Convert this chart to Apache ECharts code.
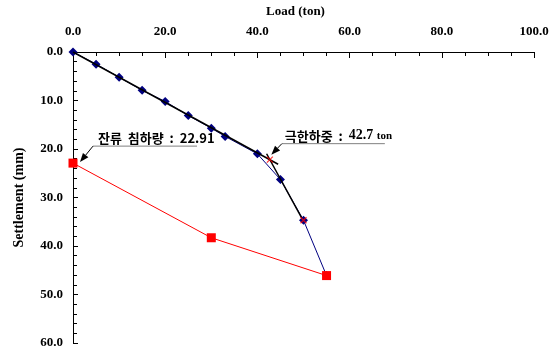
<!DOCTYPE html>
<html><head><meta charset="utf-8">
<script src="https://cdn.jsdelivr.net/npm/echarts@6/dist/echarts.min.js"></script>
<style>html,body{margin:0;padding:0;background:#fff}#c{width:557px;height:353px}</style>
</head><body><div id="c"></div>
<script>
// Loading curve (load ton, settlement mm)
var loadValues = [0, 5, 10, 15, 20, 25, 30, 33, 40, 45, 50, 55];
var settleValues = [0, 2.5, 5.2, 7.9, 10.2, 13.1, 15.7, 17.4, 21.0, 26.3, 34.7, 46.1];
// Unloading curve
var unloadLoads = [0, 30, 55];
var unloadSettles = [22.91, 38.3, 46.1];
// Tangent lines
var tangentA = [[0, 0], [44.5, 23.14]];
var tangentB = [[42.0, 20.98], [49.6, 34.2]];
// Ultimate load marker
var ultimateLoad = 42.7, ultimateSettle = 22.2;
var residualSettle = 22.91;
var crossPoints = [[42.7, 22.2], [50, 34.7]];
var xTicks = [0, 20, 40, 60, 80, 100];
var yTicks = [0, 10, 20, 30, 40, 50, 60];

var serif = '"Liberation Serif","Times New Roman",serif';
var kr = '"Noto Sans CJK KR",sans-serif';
var chart = echarts.init(document.getElementById('c'), null, {renderer: 'canvas'});
var loadData = loadValues.map(function (v, i) { return [v, settleValues[i]]; });
var unloadData = unloadLoads.map(function (v, i) { return [v, unloadSettles[i]]; });
var crossPath = 'path://M0,0L10,10M10,0L0,10';

chart.setOption({
  animation: false,
  grid: {left: 73, top: 50, right: 23, bottom: 10},
  xAxis: {
    type: 'value', position: 'top', min: 0, max: 100, interval: 20,
    name: 'Load (ton)', nameLocation: 'middle', nameGap: 34,
    nameTextStyle: {fontFamily: serif, fontWeight: 'bold', fontSize: 13, color: '#000', padding: [0, 16, 0, 0]},
    axisLine: {lineStyle: {color: '#000', width: 1}},
    axisTick: {inside: true, length: 6, lineStyle: {color: '#000'}},
    minorTick: {show: true, splitNumber: 4, length: 4, lineStyle: {color: '#000'}},
    splitLine: {show: false},
    axisLabel: {fontFamily: serif, fontWeight: 'bold', fontSize: 13, color: '#000', margin: 14,
      formatter: function (v) { return v.toFixed(1); }}
  },
  yAxis: {
    type: 'value', inverse: true, min: 0, max: 60, interval: 10,
    name: 'Settlement (mm)', nameLocation: 'middle', nameGap: 47, nameRotate: 90,
    nameTextStyle: {fontFamily: serif, fontWeight: 'bold', fontSize: 14, color: '#000'},
    axisLine: {lineStyle: {color: '#000', width: 1}},
    axisTick: {inside: true, length: 5, lineStyle: {color: '#000'}},
    minorTick: {show: true, splitNumber: 5, length: 4, lineStyle: {color: '#000'}},
    splitLine: {show: false},
    axisLabel: {fontFamily: serif, fontWeight: 'bold', fontSize: 13, color: '#000', margin: 10,
      formatter: function (v) { return v.toFixed(1); }}
  },
  series: [
    {type: 'line', data: loadData, symbol: 'diamond', symbolSize: 9,
      lineStyle: {color: '#000080', width: 1}, itemStyle: {color: '#000080'}, z: 3},
    {type: 'line', data: unloadData, symbol: 'rect', symbolSize: 9,
      lineStyle: {color: '#ff0000', width: 1}, itemStyle: {color: '#ff0000'}, z: 4},
    {type: 'line', data: tangentA, symbol: 'none', lineStyle: {color: '#000', width: 1.5}, z: 5},
    {type: 'line', data: tangentB, symbol: 'none', lineStyle: {color: '#000', width: 1.5}, z: 5},
    {type: 'scatter', data: crossPoints, symbol: crossPath, symbolSize: 6,
      itemStyle: {color: 'none', borderColor: '#ff0000', borderWidth: 1.2}, z: 6}
  ]
});

function arrow(x1, y1, x2, y2) {
  var a = Math.atan2(y2 - y1, x2 - x1), L = 9, W = 3.5;
  var bx = x2 - L * Math.cos(a), by = y2 - L * Math.sin(a);
  var px = -Math.sin(a) * W, py = Math.cos(a) * W;
  return [
    {type: 'line', shape: {x1: x1, y1: y1, x2: bx, y2: by}, style: {stroke: '#000', lineWidth: 1}, z: 10},
    {type: 'polygon', shape: {points: [[x2, y2], [bx + px, by + py], [bx - px, by - py]]}, style: {fill: '#000'}, z: 10}
  ];
}
var p1 = chart.convertToPixel({gridIndex: 0}, [0, residualSettle]);
var p2 = chart.convertToPixel({gridIndex: 0}, [ultimateLoad, ultimateSettle]);
var g = [];
// residual settlement annotation
var t1x = p1[0] + 20, t1y = p1[1] - 17;
g.push({type: 'line', shape: {x1: t1x, y1: t1y, x2: t1x + 104, y2: t1y}, style: {stroke: '#808080', lineWidth: 1}, z: 10});
g = g.concat(arrow(t1x, t1y, p1[0] + 7, p1[1] - 1));
g.push({type: 'text', x: t1x + 5, y: t1y - 2, style: {text: '잔류  침하량  :  22.91', fontFamily: kr, fontWeight: 'bold', fontSize: 13, fill: '#000', textVerticalAlign: 'bottom'}, z: 10});
// ultimate load annotation
var t2x = p2[0] + 12, t2y = p2[1] - 16;
g.push({type: 'line', shape: {x1: t2x, y1: t2y, x2: t2x + 103, y2: t2y}, style: {stroke: '#808080', lineWidth: 1}, z: 10});
g = g.concat(arrow(t2x, t2y, p2[0] + 1.5, p2[1] - 5));
g.push({type: 'text', x: t2x + 3, y: t2y - 1, style: {
  text: '{k|극한하중  :  }{n|42.7 }{u|ton}', textVerticalAlign: 'bottom',
  rich: {k: {fontFamily: kr, fontWeight: 'bold', fontSize: 13, fill: '#000'},
         n: {fontFamily: serif, fontWeight: 'bold', fontSize: 14, fill: '#000'},
         u: {fontFamily: serif, fontWeight: 'bold', fontSize: 11, fill: '#000'}}}, z: 10});
chart.setOption({graphic: g});
</script></body></html>
